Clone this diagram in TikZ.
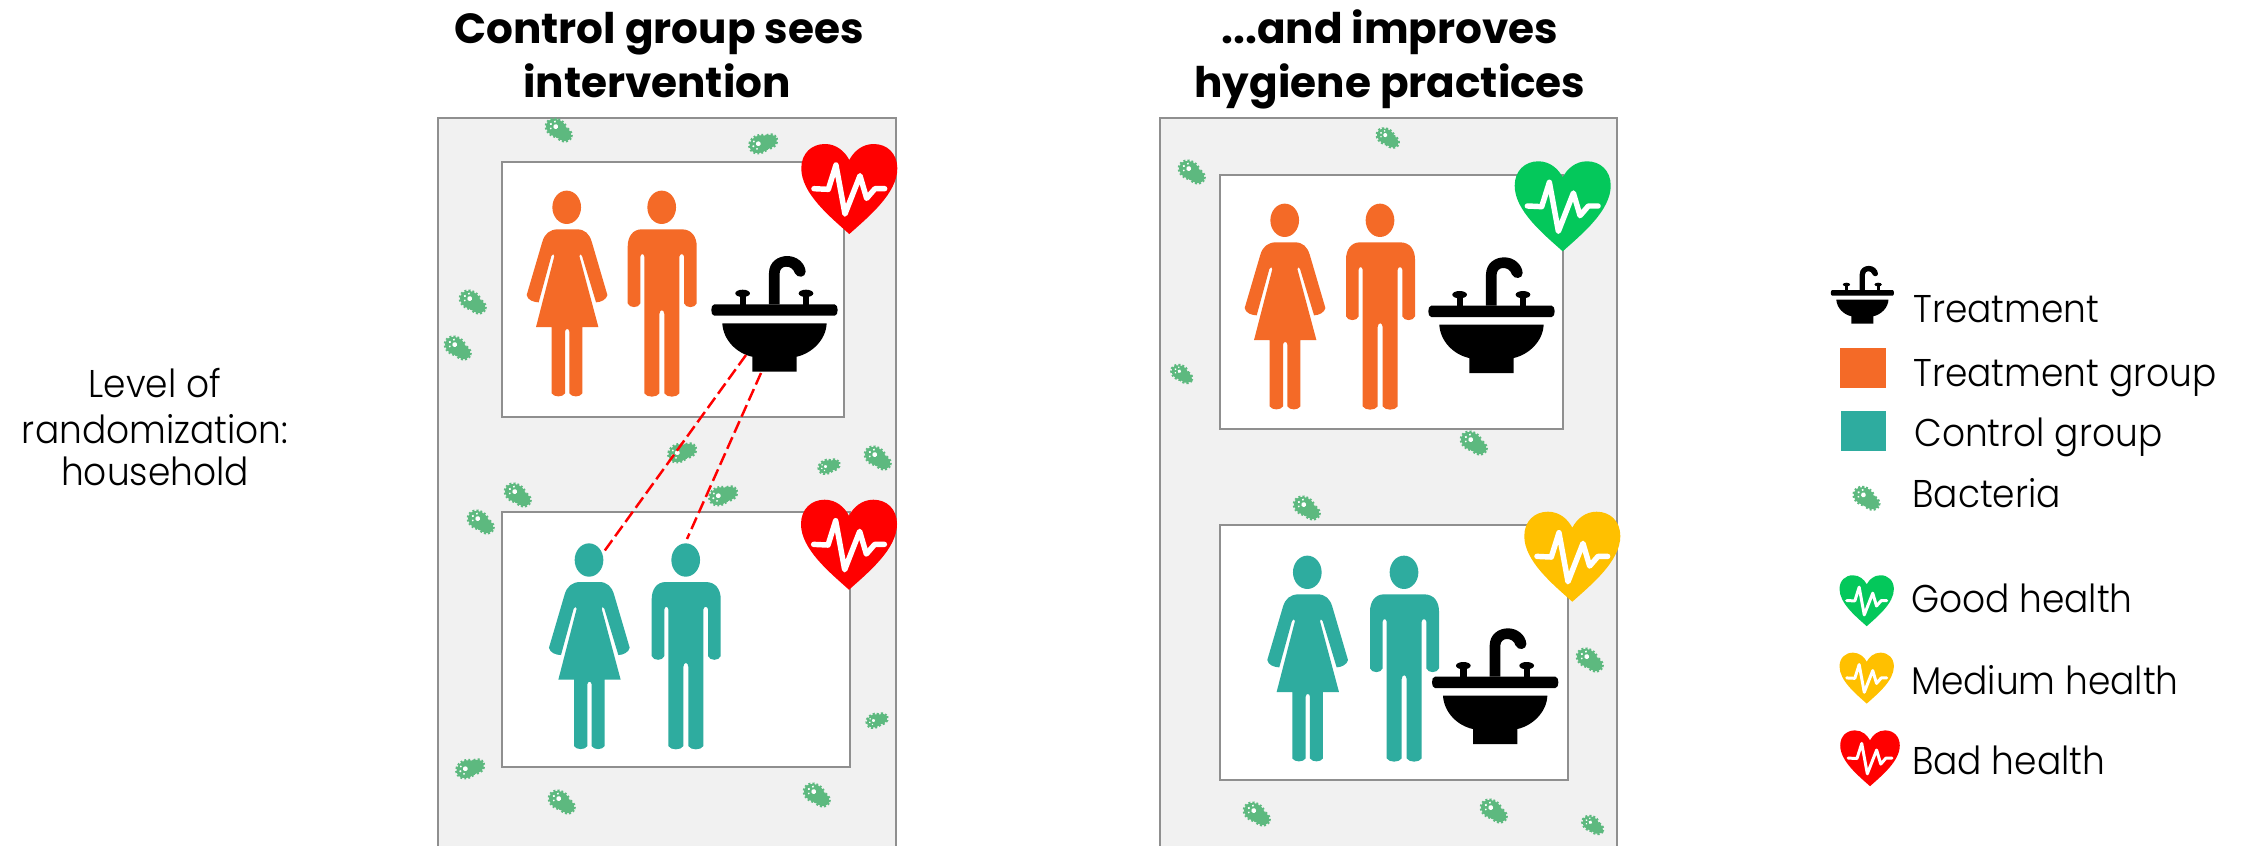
\documentclass[tikz,border=0pt]{standalone}
\usepackage{fontspec}
\setmainfont{Poppins}
\newfontfamily\thinfont[FakeStretch=0.93]{Poppins Light}
\usepackage{tikz}
\usetikzlibrary{positioning,calc}
\definecolor{treatc}{HTML}{F46A27}
\definecolor{ctrlc}{HTML}{2EAC9F}
\definecolor{germc}{HTML}{5DB97F}
\definecolor{goodc}{HTML}{04C85B}
\definecolor{medc}{HTML}{FFC000}
\definecolor{badc}{HTML}{FF0000}
\definecolor{framec}{HTML}{8F8F8F}
\definecolor{panelc}{HTML}{F1F1F1}
\tikzset{
  panel/.style={draw=framec,fill=panelc,line width=1pt},
  cell/.style={draw=framec,fill=white,line width=1pt},
  title/.style={font=\fontsize{24}{24}\selectfont\bfseries,anchor=base,inner sep=0pt},
  lbl/.style={font=\fontsize{22}{22}\selectfont\thinfont,anchor=base west,inner sep=0pt},
  side/.style={font=\fontsize{22}{22}\selectfont\thinfont,anchor=base,inner sep=0pt},
  link/.style={draw=badc,line width=1.4pt,dash pattern=on 7.2pt off 2.8pt},
  pics/woman/.style={code={
    \begin{scope}[x=.0667mm,y=-.0667mm,shift={(-410,-292)}]
      \fill[#1] (410,292) ellipse [x radius=43,y radius=50];
      \fill[#1] (385,358) -- (440,358) .. controls (465,358) and (478,372) .. (485,395)
        -- (532,555) .. controls (530,568) and (512,577) .. (498,577) -- (456,438)
        .. controls (454,431) and (447,431) .. (448,438) -- (505,651) -- (457,651) -- (457,850)
        .. controls (450,862) and (425,862) .. (418,850) -- (418,665)
        .. controls (417,654) and (406,654) .. (405,665) -- (405,850)
        .. controls (398,862) and (372,862) .. (365,850) -- (365,651) -- (318,651) -- (373,438)
        .. controls (374,431) and (366,431) .. (364,438) -- (326,577)
        .. controls (312,577) and (292,570) .. (290,555) -- (337,395)
        .. controls (344,372) and (358,358) .. (385,358) -- cycle;
    \end{scope}}},
  pics/man/.style={code={
    \begin{scope}[x=.0667mm,y=-.0667mm,shift={(-695,-292)}]
      \fill[#1] (695,292) ellipse [x radius=43,y radius=50];
      \fill[#1] (635,358) -- (755,358) .. controls (785,358) and (800,380) .. (800,410) -- (800,580)
        .. controls (795,595) and (767,595) .. (762,580) -- (762,440)
        .. controls (761,430) and (749,430) .. (748,440) -- (748,850)
        .. controls (740,863) and (711,863) .. (703,850) -- (703,612)
        .. controls (702,597) and (689,597) .. (688,612) -- (688,850)
        .. controls (680,863) and (651,863) .. (643,850) -- (643,440)
        .. controls (642,430) and (632,430) .. (631,440) -- (631,580)
        .. controls (626,595) and (598,595) .. (593,580) -- (593,410)
        .. controls (593,380) and (608,358) .. (635,358) -- cycle;
    \end{scope}}},
  pics/sink/.style={code={
    \begin{scope}[x=.0667mm,y=-.0667mm,shift={(-1033,-617)}]
      % basin and pedestal
      \fill[black] (877,640) -- (1190,640) .. controls (1188,690) and (1145,730) .. (1100,740)
        -- (1100,785) -- (967,785) -- (967,740) .. controls (920,730) and (880,690) .. (877,640) -- cycle;
      % rim
      \fill[black] (853,583) -- (1214,583) .. controls (1226,583) and (1226,617) .. (1214,617)
        -- (853,617) .. controls (841,617) and (841,583) .. (853,583) -- cycle;
      % spout
      \fill[black] (1017,583) -- (1017,490) .. controls (1017,455) and (1045,438) .. (1072,438)
        .. controls (1100,438) and (1125,458) .. (1127,485) .. controls (1127,503) and (1102,505) .. (1095,490)
        .. controls (1090,475) and (1080,470) .. (1068,470) .. controls (1058,470) and (1049,478) .. (1049,490)
        -- (1049,583) -- cycle;
      % taps
      \fill[black] (938,550) ellipse [x radius=22,y radius=11];
      \fill[black] (1128,550) ellipse [x radius=22,y radius=11];
      \fill[black] (929,552) rectangle (948,585);
      \fill[black] (1119,552) rectangle (1138,585);
    \end{scope}}},
  pics/heart/.style 2 args={code={
    \begin{scope}[x=.0667mm,y=-.0667mm,shift={(-1258,-150)}]
      \fill[#1] (1258,372) .. controls (1200,320) and (1114,250) .. (1114,175)
        .. controls (1114,130) and (1145,102) .. (1185,102) .. controls (1220,102) and (1245,125) .. (1258,150)
        .. controls (1271,125) and (1296,102) .. (1331,102) .. controls (1371,102) and (1402,130) .. (1402,175)
        .. controls (1402,250) and (1316,320) .. (1258,372) -- cycle;
      \draw[white,line width=#2,line join=round,line cap=round] (1152,236) -- (1195,238) -- (1218,165)
        -- (1245,312) -- (1290,197) -- (1310,265) -- (1335,236) -- (1364,236);
    \end{scope}}},
  pics/germ/.style={code={
    \begin{scope}[x=.2mm,y=-.2mm,rotate=-28]
      \draw[germc,fill=germc,line width=1.7pt,dash pattern=on 1.1pt off 1.1pt] (-3.5,-.5) ellipse [x radius=10.5,y radius=8.5];
      \draw[germc,fill=germc,line width=1.7pt,dash pattern=on 1.1pt off 1.1pt] (6,1.5) ellipse [x radius=8,y radius=6.5];
      \fill[white] (-4.5,-1.5) circle (2.4);
      \fill[white] (-10,-1.5) circle (1.2);
      \fill[white] (-7.5,-5.5) circle (1.1);
      \fill[white] (-8,2.5) circle (1);
    \end{scope}}}
}
\begin{document}
\begin{tikzpicture}[x=.2mm,y=-.2mm]
  \useasboundingbox (0,0) rectangle (2244,845);
  % left study arm
  \draw[panel] (438,118) rectangle (896,852);
  \foreach \px/\py/\rot/\sc in {559/130/0/1,763/143/55/1,473/302/0/1,458/348/0/1,682/452/55/1,829/466/55/.75,
    878/458/0/1,518/495/0/1,723/495/55/1,481/522/0/1,877/720/55/.75,470/768/55/1,562/802/0/1,817/795/0/1}{
    \pic[rotate=\rot,scale=\sc] at (\px,\py) {germ};}
  \draw[cell] (502,162) rectangle (844,417);
  \draw[cell] (502,512) rectangle (850,767);
  \pic at (566.7,207.3) {woman=treatc};
  \pic at (661.7,207.3) {man=treatc};
  \pic at (774.3,315.7) {sink};
  \pic at (589,560) {woman=ctrlc};
  \pic at (685.7,560) {man=ctrlc};
  \pic at (849.3,160) {heart={badc}{3.1pt}};
  \pic at (849,515.7) {heart={badc}{3.1pt}};
  % sight lines from the sink to the heads
  \coordinate (sinkl) at (746,355);
  \coordinate (sinkr) at (761,373);
  \coordinate (heada) at (603,553);
  \coordinate (headb) at (687,539);
  \draw[link] (sinkl) -- (heada);
  \draw[link] (sinkr) -- (headb);
  % right study arm
  \draw[panel] (1160,118) rectangle (1617,852);
  \foreach \px/\py/\rot/\sc in {1192/172/0/1,1388/138/0/.85,1182/374/0/.8,1474/443/0/1,1307/508/0/1,
    1590/660/0/1,1257/814/0/1,1494/811/0/1,1593/825/0/.8}{
    \pic[rotate=\rot,scale=\sc] at (\px,\py) {germ};}
  \draw[cell] (1220,175) rectangle (1563,429);
  \draw[cell] (1220,525) rectangle (1568,780);
  \pic at (1284.7,220.3) {woman=treatc};
  \pic at (1380,220.3) {man=treatc};
  \pic at (1491.3,317) {sink};
  \pic at (1307.3,572.3) {woman=ctrlc};
  \pic at (1404,572.3) {man=ctrlc};
  \pic at (1495,688) {sink};
  \pic at (1562.7,177.3) {heart={goodc}{3.1pt}};
  \pic at (1572.3,527.7) {heart={medc}{3.1pt}};
  % headings
  \node[title] (head1) at (659,43) {Control group sees};
  \node[title] (head2) at (657,97) {intervention};
  \node[title] (head3) at (1390,43) {...and improves};
  \node[title] (head4) at (1390,97) {hygiene practices};
  \node[side] (lev1) at (155,397) {Level of};
  \node[side] (lev2) at (155,443) {randomization:};
  \node[side] (lev3) at (155,485) {household};
  % legend
  \pic[scale=.5] at (1862.3,295.7) {sink};
  \fill[treatc] (1840.3,348) rectangle (1886,387.7);
  \fill[ctrlc] (1841,411.3) rectangle (1886.3,451);
  \pic at (1866.7,498.3) {germ};
  \pic[scale=.566] at (1866.7,584.3) {heart={goodc}{1.7pt}};
  \pic[scale=.566] at (1866.7,661.7) {heart={medc}{1.7pt}};
  \pic[scale=.62] at (1870,740.3) {heart={badc}{1.7pt}};
  \node[lbl] (ltr) at (1913,322) {Treatment};
  \node[lbl] (lgt) at (1913,386) {Treatment group};
  \node[lbl] (lgc) at (1914,446.7) {Control group};
  \node[lbl] (lba) at (1912,507.3) {Bacteria};
  \node[lbl] (lgo) at (1910.7,612.7) {Good health};
  \node[lbl] (lme) at (1910.7,694) {Medium health};
  \node[lbl] (lbd) at (1911.7,774) {Bad health};
\end{tikzpicture}
\end{document}
